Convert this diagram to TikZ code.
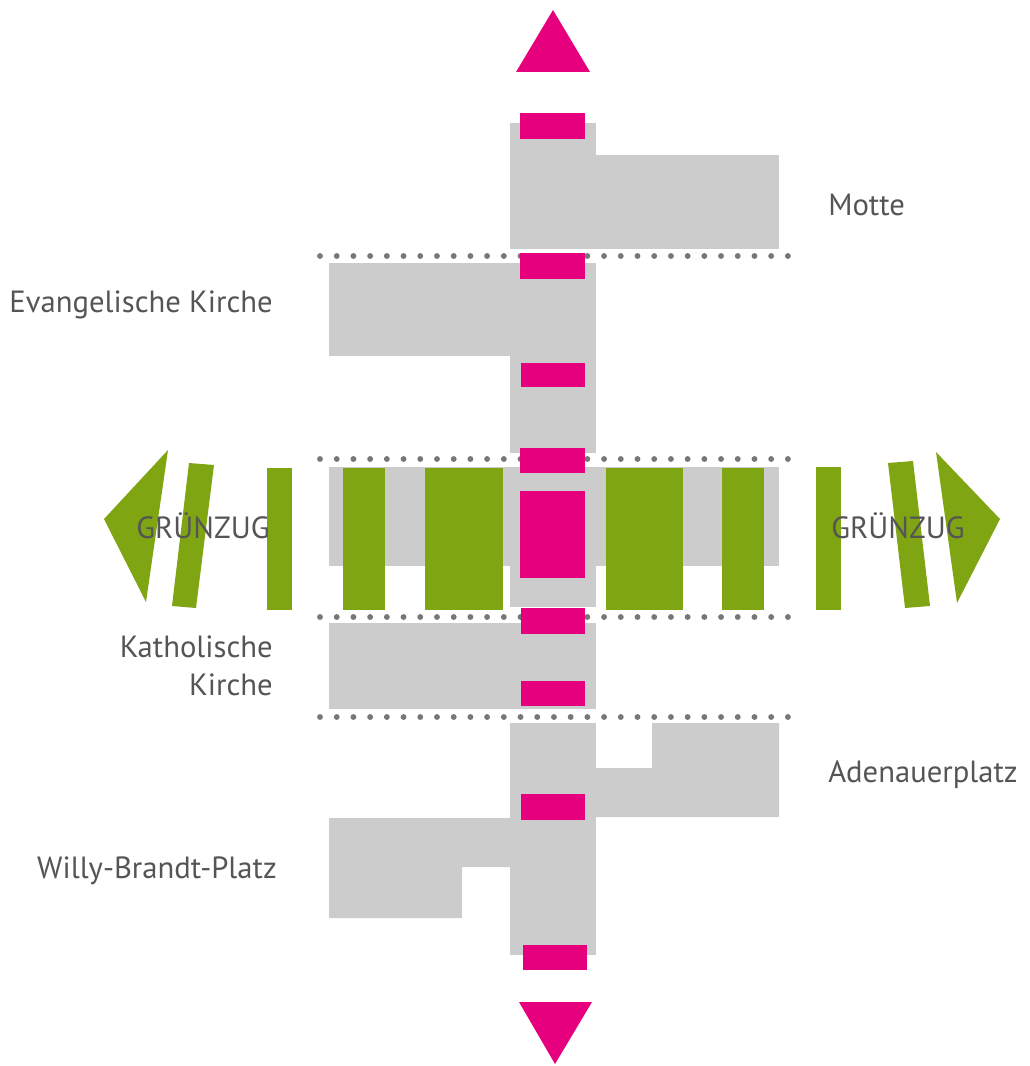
\documentclass[tikz,border=0pt]{standalone}
\usepackage{fontspec}
\setmainfont{PT Sans}
\usetikzlibrary{positioning}
\definecolor{blockgray}{HTML}{CCCCCC}
\definecolor{axispink}{HTML}{E6007E}
\definecolor{parkgreen}{HTML}{80A512}
\definecolor{dotgray}{HTML}{777777}
\definecolor{labelgray}{HTML}{555557}
\tikzstyle{block} = [fill=blockgray]
\tikzstyle{axis} = [fill=axispink]
\tikzstyle{park} = [fill=parkgreen]
\tikzstyle{place} = [text=labelgray, inner sep=0pt, font=\fontsize{23}{28.5}\selectfont]
\begin{document}
\begin{tikzpicture}[x=0.75pt, y=-0.75pt]

            \useasboundingbox (0,0) rectangle (1029,1066);

            % gray building blocks
            \fill[block] (510,123) rectangle (596,249);
            \fill[block] (596,155) rectangle (779,249);
            \fill[block] (329,263) rectangle (596,356);
            \fill[block] (510,356) rectangle (596,453);
            \fill[block] (329,467) rectangle (779,566);
            \fill[block] (510,566) rectangle (596,607);
            \fill[block] (329,623) rectangle (596,709);
            \fill[block] (510,723) rectangle (596,955);
            \fill[block] (596,768) -- (652,768) -- (652,723) -- (779,723) -- (779,817) -- (596,817) -- cycle;
            \fill[block] (329,818) -- (510,818) -- (510,867) -- (462,867) -- (462,918) -- (329,918) -- cycle;

            % dotted borders
            \foreach \y in {256,459,617,717}
                \foreach \i in {0,...,28}
                    \fill[dotgray] ({320+\i*16.71},\y) circle (2.2pt);

            % green corridor
            \fill[park] (343,468) rectangle (385,610);
            \fill[park] (425,468) rectangle (503,610);
            \fill[park] (606,468) rectangle (683,610);
            \fill[park] (722,468) rectangle (764,610);
            \fill[park] (267,468) rectangle (292,610);
            \fill[park] (816,467) rectangle (841,610);
            \fill[park] (189,463) -- (214,465) -- (196,608) -- (172,606) -- cycle;
            \fill[park] (888,463) -- (913,461) -- (930,606) -- (905,608) -- cycle;
            \fill[park] (168,450) -- (104,519) -- (146,602) -- cycle;
            \fill[park] (936,452) -- (1000,519) -- (957,603) -- cycle;

            % pink axis
            \fill[axis] (520,113) rectangle (585,139);
            \fill[axis] (520,253) rectangle (585,279);
            \fill[axis] (521,363) rectangle (585,387);
            \fill[axis] (520,448) rectangle (585,473);
            \fill[axis] (520,491) rectangle (585,578);
            \fill[axis] (521,608) rectangle (585,634);
            \fill[axis] (521,681) rectangle (585,706);
            \fill[axis] (521,794) rectangle (585,820);
            \fill[axis] (523,945) rectangle (587,970);
            \fill[axis] (516,72) -- (590,72) -- (553,10) -- cycle;
            \fill[axis] (519,1002) -- (592,1002) -- (555,1064) -- cycle;

            % labels
            \node (motte) [place, anchor=base west] at (828,215) {Motte};
            \node (evkirche) [place, anchor=base east] at (273,312) {Evangelische Kirche};
            \node (kathkirche) [place, anchor=east, align=right] at (273,666) {Katholische\\Kirche};
            \node (gruenwest) [place, anchor=base] at (203,538) {GRÜNZUG};
            \node (gruenost) [place, anchor=base] at (898,538) {GRÜNZUG};
            \node (adenauer) [place, anchor=base west] at (828,782) {Adenauerplatz};
            \node (willy) [place, anchor=base east] at (277,878) {Willy-Brandt-Platz};

        \end{tikzpicture}
\end{document}
